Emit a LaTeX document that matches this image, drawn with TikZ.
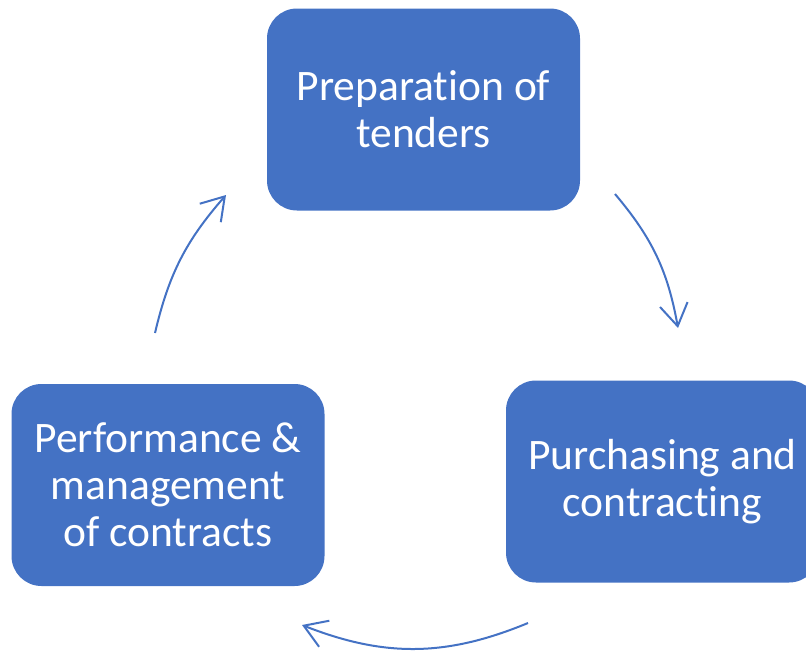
\documentclass[tikz,border=0pt]{standalone}
\usepackage{fontspec}
\setmainfont{Carlito}[Ligatures=NoCommon]
\usetikzlibrary{arrows.meta}
\definecolor{boxblue}{HTML}{4472C4}
\begin{document}
\begin{tikzpicture}[x=1pt,y=-1pt,
  stage/.style={fill=boxblue, draw=none, rounded corners=30pt,
    minimum width=313pt, minimum height=202pt, inner sep=0pt,
    text=white, align=center, font=\fontsize{43.5}{47}\selectfont},
  cycle/.style={draw=boxblue, line width=2pt,
    -{Straight Barb[length=22pt,width=28pt]}}]
\useasboundingbox (0,0) rectangle (806,651);
\clip (0,0) rectangle (806,651);
% the three stages of the procurement cycle
\node[stage] (prep)  at (423.5,109.5) {Preparation of\\tenders};
\node[stage] (purch) at (662.5,481.5) {Purchasing and\\contracting};
\node[stage] (perf)  at (168,485)     {Performance \&\\management\\of contracts};
% free ends of the curved arrows between the stages
\coordinate (a1s) at (615,194);
\coordinate (a1e) at (678,328);
\coordinate (a2s) at (528,623);
\coordinate (a2e) at (302,625);
\coordinate (a3s) at (155,333);
\coordinate (a3e) at (226,195);
\draw[cycle] (a1s) to[bend left=15] (a1e);
\draw[cycle] (a2s) to[bend left=22] (a2e);
\draw[cycle] (a3s) to[bend left=14] (a3e);
\end{tikzpicture}
\end{document}
